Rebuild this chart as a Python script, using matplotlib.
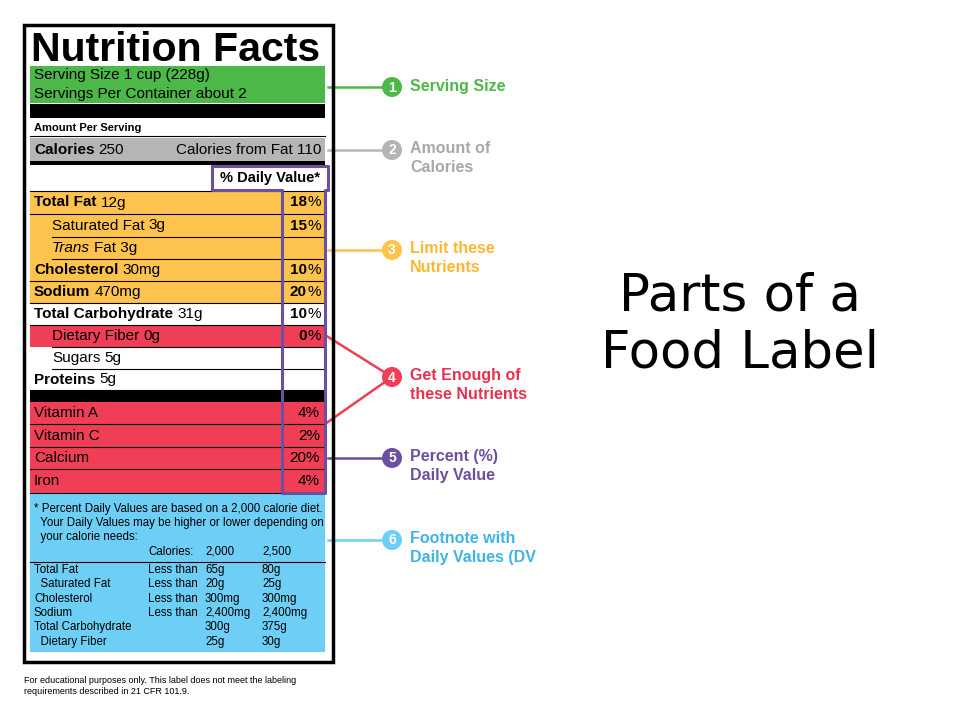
import matplotlib
matplotlib.use("Agg")
import matplotlib.pyplot as plt
from matplotlib.patches import Rectangle, Circle

# ---- data ----
row_names = ["Total Fat", "Saturated Fat", "Trans Fat", "Cholesterol", "Sodium",
             "Total Carbohydrate", "Dietary Fiber", "Sugars", "Proteins"]
row_amounts = ["12g", "3g", "3g", "30mg", "470mg", "31g", "0g", "5g", "5g"]
row_dv = ["18", "15", "", "10", "20", "10", "0", "", ""]
row_bold = [True, False, False, True, True, True, False, False, True]
row_indent = [False, True, True, False, False, False, True, True, False]
row_group = ["limit", "limit", "limit", "limit", "limit", "none", "enough", "none", "none"]
vit_names = ["Vitamin A", "Vitamin C", "Calcium", "Iron"]
vit_dv = ["4%", "2%", "20%", "4%"]
foot_rows = ["Total Fat", "  Saturated Fat", "Cholesterol", "Sodium", "Total Carbohydrate", "  Dietary Fiber"]
foot_cmp = ["Less than", "Less than", "Less than", "Less than", "", ""]
foot_2000 = ["65g", "20g", "300mg", "2,400mg", "300g", "25g"]
foot_2500 = ["80g", "25g", "300mg", "2,400mg", "375g", "30g"]
callouts = ["Serving Size", "Amount of\nCalories", "Limit these\nNutrients",
            "Get Enough of\nthese Nutrients", "Percent (%)\nDaily Value", "Footnote with\nDaily Values (DV"]

GREEN, GRAY, ORANGE, RED, PURPLE, BLUE = "#4cb848", "#b5b5b7", "#fec34d", "#ef3e55", "#6b4fa1", "#6dcff6"
TGREEN, TGRAY, TORANGE, TRED, TBLUE = "#4cb848", "#a8a8aa", "#fbb731", "#e8304f", "#3fb4e5"

fig = plt.figure(figsize=(9.6, 7.2), dpi=100)
ax = fig.add_axes([0, 0, 1, 1])
ax.set_xlim(0, 960); ax.set_ylim(720, 0); ax.axis("off")
F = "Liberation Sans"

def rect(x0, y0, x1, y1, fc="none", ec="none", lw=0, z=1):
    ax.add_patch(Rectangle((x0, y0), x1 - x0, y1 - y0, fc=fc, ec=ec, lw=lw, zorder=z))

def hline(x0, x1, y, lw=0.8, c="black"):
    ax.plot([x0, x1], [y, y], color=c, lw=lw, zorder=3)

def after(prev, s, **kw):
    return ax.annotate(s, xy=(1, 0.5), xycoords=prev, xytext=(3, 0), textcoords="offset points",
                       va="center", fontfamily=F, fontsize=11, **kw)

L, R = 30, 325
rect(24, 25, 333, 662, ec="black", lw=2.5, z=5)
ax.text(31, 50, "Nutrition Facts", fontfamily=F, fontweight="bold", fontsize=29.5, va="center")
rect(L, 66, R, 103, fc=GREEN)
ax.text(34, 75, "Serving Size 1 cup (228g)", fontfamily=F, fontsize=11, va="center")
ax.text(34, 94, "Servings Per Container about 2", fontfamily=F, fontsize=11, va="center")
rect(L, 104, R, 118, fc="black")
ax.text(34, 128, "Amount Per Serving", fontfamily=F, fontweight="bold", fontsize=8, va="center")
hline(L, R, 136)
rect(L, 138, R, 161, fc=GRAY)
t = ax.text(34, 150, "Calories", fontfamily=F, fontweight="bold", fontsize=11, va="center")
after(t, "250")
ax.text(321, 150, "Calories from Fat 110", fontfamily=F, fontsize=11, va="center", ha="right")
rect(L, 161, R, 165, fc="black")
ax.text(320, 178, "% Daily Value*", fontfamily=F, fontweight="bold", fontsize=10.5, va="center", ha="right")

ys = [191, 214, 237, 259, 281, 303, 325, 347, 369, 390]
cols = {"limit": ORANGE, "enough": RED, "none": "white"}
for i, name in enumerate(row_names):
    y0, y1 = ys[i], ys[i + 1]
    ym = (y0 + y1) / 2
    rect(L, y0, R, y1, fc=cols[row_group[i]])
    x = 52 if row_indent[i] else 34
    if name == "Trans Fat":
        t = ax.text(x, ym, "Trans", fontfamily=F, fontstyle="italic", fontsize=11, va="center")
        after(t, "Fat " + row_amounts[i])
    else:
        t = ax.text(x, ym, name, fontfamily=F, fontsize=11, va="center",
                    fontweight="bold" if row_bold[i] else "normal")
        after(t, row_amounts[i])
    if row_dv[i]:
        ax.text(307, ym, row_dv[i], fontfamily=F, fontweight="bold", fontsize=11, va="center", ha="right")
        ax.text(307, ym, "%", fontfamily=F, fontsize=11, va="center", ha="left")
    hline(x if row_indent[i] else L, R, y1)
hline(L, R, 191)
rect(L, 390, R, 402, fc="black")
vys = [402, 424, 447, 469, 493]
for i, name in enumerate(vit_names):
    y0, y1 = vys[i], vys[i + 1]
    rect(L, y0, R, y1, fc=RED)
    ax.text(34, (y0 + y1) / 2, name, fontfamily=F, fontsize=11, va="center")
    ax.text(320, (y0 + y1) / 2, vit_dv[i], fontfamily=F, fontsize=11, va="center", ha="right")
    hline(L, R, y1)

rect(L, 494, R, 652, fc=BLUE)
ax.text(34, 503, "* Percent Daily Values are based on a 2,000 calorie diet.\n  Your Daily Values may be higher or lower depending on\n  your calorie needs:",
        fontfamily=F, fontsize=8.3, va="top", linespacing=1.2)
fx = [34, 148, 205, 262]
ax.text(148, 552, "Calories:", fontfamily=F, fontsize=8.3, va="center")
ax.text(205, 552, "2,000", fontfamily=F, fontsize=8.3, va="center")
ax.text(262, 552, "2,500", fontfamily=F, fontsize=8.3, va="center")
hline(L, R, 562, lw=0.8)
for i in range(len(foot_rows)):
    y = 570 + i * 14.3
    ax.text(fx[0], y, foot_rows[i], fontfamily=F, fontsize=8.3, va="center")
    ax.text(fx[1], y, foot_cmp[i], fontfamily=F, fontsize=8.3, va="center")
    ax.text(fx[2], y, foot_2000[i], fontfamily=F, fontsize=8.3, va="center")
    ax.text(fx[3], y, foot_2500[i], fontfamily=F, fontsize=8.3, va="center")
ax.text(24, 686, "For educational purposes only. This label does not meet the labeling\nrequirements described in 21 CFR 101.9.",
        fontfamily=F, fontsize=6.5, va="center", linespacing=1.3)

ax.plot([212, 328, 328, 325, 325, 282, 282, 212, 212],
        [166, 166, 190, 190, 493, 493, 190, 190, 166], color=PURPLE, lw=2.2, zorder=6)

cy = [87, 150, 250, 377, 458, 540]
ccol = [GREEN, GRAY, ORANGE, RED, PURPLE, BLUE]
tcol = [TGREEN, TGRAY, TORANGE, TRED, PURPLE, TBLUE]
for i, (y, c) in enumerate(zip(cy, ccol)):
    if i == 3:
        ax.plot([325, 392], [335, y], color=c, lw=1.8, zorder=2)
        ax.plot([325, 392], [424, y], color=c, lw=1.8, zorder=2)
    else:
        ax.plot([328, 392], [y, y], color=c, lw=1.8, zorder=2)
    ax.add_patch(Circle((392, y), 10, fc=c, ec="none", zorder=7))
    ax.text(392, y + 0.5, str(i + 1), color="white", fontfamily=F, fontweight="bold", fontsize=10,
            ha="center", va="center", zorder=8)
    ax.text(410, y if i == 0 else y - 9, callouts[i], color=tcol[i], fontfamily=F, fontweight="bold",
            fontsize=11.5, va="center" if i == 0 else "top", linespacing=1.35)
ax.add_patch(Rectangle((552, 520), 40, 60, fc="white", ec="none", zorder=9))

ax.text(740, 325, "Parts of a\nFood Label", fontfamily="DejaVu Sans", fontsize=37, ha="center", va="center",
        linespacing=1.2)

fig.savefig("out.png", dpi=100)
